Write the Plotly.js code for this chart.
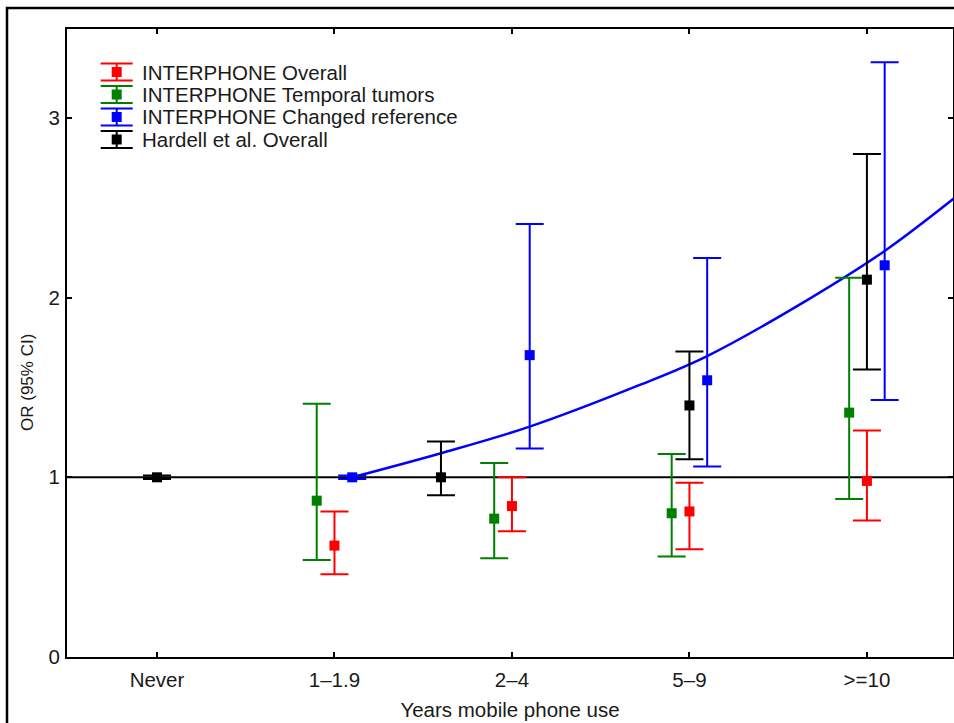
<!DOCTYPE html>
<html>
<head>
<meta charset="utf-8">
<script src="https://cdn.plot.ly/plotly-3.0.1.min.js"></script>
<style>html,body{margin:0;padding:0;background:#fff;}#chart{width:954px;height:723px;}</style>
</head>
<body>
<div id="chart"></div>
<script>
// ---- data ----
var categories = ['Never', '1\u20131.9', '2\u20134', '5\u20139', '>=10'];

// INTERPHONE Overall (red) at categories 1..4
var overallIdx  = [1, 2, 3, 4];
var overallOR   = [0.62, 0.84, 0.81, 0.98];
var overallLow  = [0.46, 0.70, 0.60, 0.76];
var overallHigh = [0.81, 1.00, 0.97, 1.26];

// INTERPHONE Temporal tumors (green)
var temporalIdx  = [1, 2, 3, 4];
var temporalOR   = [0.87, 0.77, 0.80, 1.36];
var temporalLow  = [0.54, 0.55, 0.56, 0.88];
var temporalHigh = [1.41, 1.08, 1.13, 2.11];

// INTERPHONE Changed reference (blue)
var changedIdx  = [1, 2, 3, 4];
var changedOR   = [1.00, 1.68, 1.54, 2.18];
var changedLow  = [0.99, 1.16, 1.06, 1.43];
var changedHigh = [1.01, 2.41, 2.22, 3.31];

// Hardell et al. Overall (black)
var hardellIdx  = [0, 1.6, 3, 4];
var hardellOR   = [1.00, 1.00, 1.40, 2.10];
var hardellLow  = [0.99, 0.90, 1.10, 1.60];
var hardellHigh = [1.01, 1.20, 1.70, 2.80];

// fitted trend curve (blue)
var trendX = [1.10, 1.60, 2.10, 2.72, 3.10, 3.68, 4.10, 4.50];
var trendY = [1.00, 1.134, 1.282, 1.514, 1.675, 1.996, 2.26, 2.56];

var legendNames = ['INTERPHONE Overall', 'INTERPHONE Temporal tumors', 'INTERPHONE Changed reference', 'Hardell et al. Overall'];

// ---- styling ----
var RED = '#ff0000', GREEN = '#008000', BLUE = '#0000ff', BLACK = '#000000';
var legendColors = [RED, GREEN, BLUE, BLACK];
var FONT = 'Liberation Sans, Arial, sans-serif';
var TXT = '#1a1a1a';
var FS = 20.5;

function errTrace(idx, offset, or, lo, hi, color) {
  return {
    type: 'scatter', mode: 'markers', showlegend: false,
    x: idx.map(function (v) { return v + offset; }),
    y: or,
    error_y: {
      type: 'data', symmetric: false,
      array: hi.map(function (h, i) { return h - or[i]; }),
      arrayminus: lo.map(function (l, i) { return or[i] - l; }),
      color: color, thickness: 2, width: 14
    },
    marker: { symbol: 'square', size: 10, color: color },
    hoverinfo: 'x+y'
  };
}

var traces = [
  { type: 'scatter', mode: 'lines', x: trendX, y: trendY, showlegend: false,
    line: { color: BLUE, width: 2.5, shape: 'spline' }, hoverinfo: 'skip' },
  errTrace(overallIdx, 0, overallOR, overallLow, overallHigh, RED),
  errTrace(temporalIdx, -0.1, temporalOR, temporalLow, temporalHigh, GREEN),
  errTrace(changedIdx, 0.1, changedOR, changedLow, changedHigh, BLUE),
  errTrace(hardellIdx, 0, hardellOR, hardellLow, hardellHigh, BLACK)
];

// plot area in pixels
var L = 67, R = 953, T = 29, B = 657;
function px2x(px) { return (px - L) / (R - L); }
function py2y(py) { return (B - py) / (B - T); }

var shapes = [
  // reference line at OR = 1
  { type: 'line', xref: 'paper', yref: 'y', x0: 0, x1: 1, y0: 1, y1: 1,
    line: { color: BLACK, width: 2 }, layer: 'below' },
  // outer frame of the figure
  { type: 'rect', xref: 'paper', yref: 'paper', x0: px2x(7), x1: 1.1, y0: -0.3, y1: py2y(8),
    line: { color: BLACK, width: 2.5 } }
];
var annotations = [];

// manual legend
legendNames.forEach(function (name, i) {
  var cy = 72 + 22.5 * i, cx = 116.7, hw = 16, hh = 8.5, sq = 5;
  var c = legendColors[i];
  shapes.push({ type: 'line', xref: 'paper', yref: 'paper', x0: px2x(cx), x1: px2x(cx), y0: py2y(cy - hh), y1: py2y(cy + hh), line: { color: c, width: 2 } });
  shapes.push({ type: 'line', xref: 'paper', yref: 'paper', x0: px2x(cx - hw), x1: px2x(cx + hw), y0: py2y(cy - hh), y1: py2y(cy - hh), line: { color: c, width: 2 } });
  shapes.push({ type: 'line', xref: 'paper', yref: 'paper', x0: px2x(cx - hw), x1: px2x(cx + hw), y0: py2y(cy + hh), y1: py2y(cy + hh), line: { color: c, width: 2 } });
  shapes.push({ type: 'rect', xref: 'paper', yref: 'paper', x0: px2x(cx - sq), x1: px2x(cx + sq), y0: py2y(cy - sq), y1: py2y(cy + sq), line: { width: 0 }, fillcolor: c });
  annotations.push({ xref: 'paper', yref: 'paper', x: px2x(140), y: py2y(cy), xanchor: 'left', yanchor: 'middle',
    text: name, showarrow: false, font: { family: FONT, size: FS, color: TXT } });
});

// y-axis title (placed as in the reference, below the plot centre)
annotations.push({ xref: 'paper', yref: 'paper', x: px2x(27), y: py2y(383), xanchor: 'center', yanchor: 'middle',
  textangle: -90, text: 'OR (95% CI)', showarrow: false, font: { family: FONT, size: 17, color: TXT } });

var layout = {
  width: 954, height: 723,
  margin: { l: L, r: 954 - R, t: T, b: 723 - B, pad: 0 },
  paper_bgcolor: '#fff', plot_bgcolor: '#fff',
  showlegend: false,
  font: { family: FONT, size: FS, color: TXT },
  xaxis: {
    range: [-0.507, 4.485], tickmode: 'array',
    tickvals: categories.map(function (c, i) { return i; }), ticktext: categories,
    showgrid: false, zeroline: false,
    showline: true, linecolor: BLACK, linewidth: 2, mirror: 'ticks',
    ticks: 'inside', ticklen: 5, tickwidth: 2, tickcolor: BLACK,
    ticklabelstandoff: 3,
    tickfont: { family: FONT, size: FS, color: TXT },
    title: { text: 'Years mobile phone use', font: { family: FONT, size: FS, color: TXT }, standoff: 13 }
  },
  yaxis: {
    range: [0, 3.495], tickvals: [0, 1, 2, 3], ticktext: ['0', '1', '2', '3'],
    showgrid: false, zeroline: false,
    showline: true, linecolor: BLACK, linewidth: 2, mirror: 'ticks',
    ticks: 'inside', ticklen: 5, tickwidth: 2, tickcolor: BLACK,
    ticklabelstandoff: 1,
    tickfont: { family: FONT, size: FS, color: TXT }
  },
  shapes: shapes,
  annotations: annotations
};

Plotly.newPlot('chart', traces, layout, { displayModeBar: false, staticPlot: true });
</script>
</body>
</html>
